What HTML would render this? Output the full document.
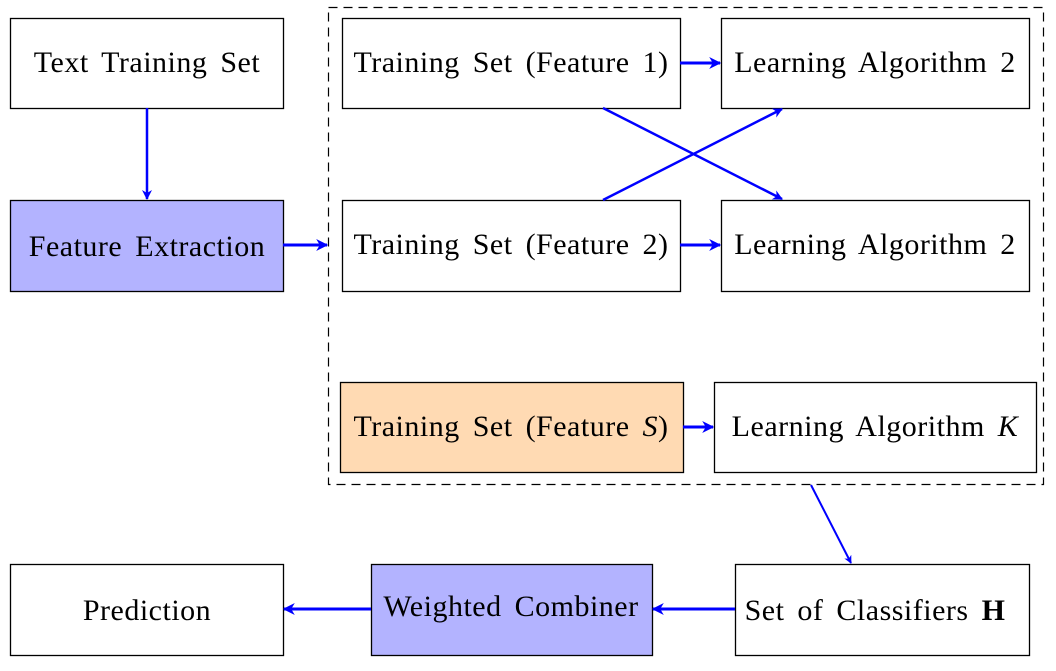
<!DOCTYPE html>
<html><head><style>
body{margin:0;background:#fff;}
svg text{font-family:"Liberation Serif",serif;font-size:30px;fill:#000;letter-spacing:0.5px;word-spacing:5px;}
</style></head><body>
<svg width="1056" height="666" viewBox="0 0 1056 666" xmlns="http://www.w3.org/2000/svg">
<defs><marker id="a" viewBox="0 0 10 10" refX="9" refY="5" markerWidth="4" markerHeight="4" orient="auto" markerUnits="strokeWidth"><path d="M0,0 L10,5 L0,10 L3,5 z" fill="#00f"/></marker></defs>
<rect x="328.5" y="7.5" width="715" height="477" fill="none" stroke="#000" stroke-width="1.2" stroke-dasharray="9,6"/>
<g stroke="#000" stroke-width="1.3">
<rect x="10.5" y="18.5" width="273" height="90" fill="#fff"/>
<rect x="10.5" y="200.5" width="273" height="91" fill="#b3b3ff"/>
<rect x="342.5" y="18.5" width="338" height="90" fill="#fff"/>
<rect x="721.5" y="18.5" width="308" height="90" fill="#fff"/>
<rect x="342.5" y="200.5" width="338" height="91" fill="#fff"/>
<rect x="721.5" y="200.5" width="308" height="91" fill="#fff"/>
<rect x="340.5" y="382.5" width="343" height="90" fill="#ffdab3"/>
<rect x="714.5" y="382.5" width="322" height="90" fill="#fff"/>
<rect x="10.5" y="564.5" width="273" height="91" fill="#fff"/>
<rect x="371.5" y="564.5" width="281" height="91" fill="#b3b3ff"/>
<rect x="735.5" y="564.5" width="294" height="91" fill="#fff"/>
</g>
<g stroke="#00f" fill="none" marker-end="url(#a)">
<line x1="147" y1="108" x2="147" y2="199" stroke-width="2.5"/>
<line x1="283" y1="245" x2="327" y2="245" stroke-width="3"/>
<line x1="680" y1="63" x2="720" y2="63" stroke-width="3"/>
<line x1="680" y1="245" x2="720" y2="245" stroke-width="3"/>
<line x1="603" y1="108" x2="782" y2="199" stroke-width="2.5"/>
<line x1="603" y1="200" x2="782" y2="109" stroke-width="2.5"/>
<line x1="683" y1="427" x2="713" y2="427" stroke-width="3"/>
<line x1="811" y1="485" x2="851" y2="563" stroke-width="2"/>
<line x1="735" y1="609" x2="653" y2="609" stroke-width="3"/>
<line x1="371" y1="609" x2="284" y2="609" stroke-width="3"/>
</g>
<g text-anchor="middle">
<text x="147" y="72">Text Training Set</text>
<text x="147" y="256">Feature Extraction</text>
<text x="511" y="72">Training Set (Feature 1)</text>
<text x="875" y="72">Learning Algorithm 2</text>
<text x="511" y="254">Training Set (Feature 2)</text>
<text x="875" y="254">Learning Algorithm 2</text>
<text x="511" y="436">Training Set (Feature <tspan font-style="italic">S</tspan>)</text>
<text x="875" y="436">Learning Algorithm <tspan font-style="italic">K</tspan></text>
<text x="147" y="620">Prediction</text>
<text x="511" y="616">Weighted Combiner</text>
<text x="875" y="620">Set of Classifiers <tspan font-weight="bold">H</tspan></text>
</g>
</svg>
</body></html>
